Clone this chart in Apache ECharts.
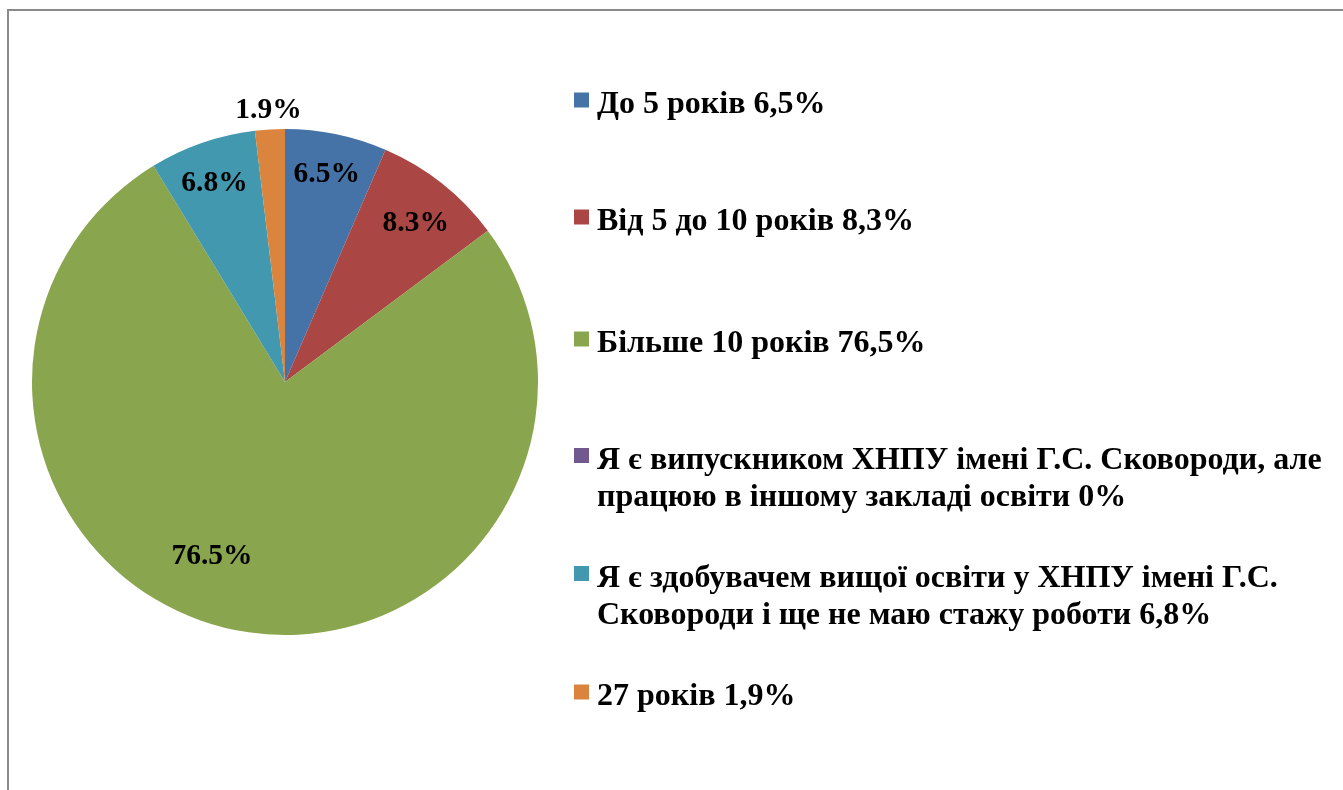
<!DOCTYPE html>
<html lang="uk">
<head>
    <meta charset="UTF-8">
    <title>Стаж роботи</title>
    <style>
        html, body { margin: 0; padding: 0; background: #fff; }
        #container { width: 1343px; height: 790px; }
    </style>
</head>
<body>
<div id="container"></div>
<script type="text/javascript" src="https://cdn.jsdelivr.net/npm/echarts@6/dist/echarts.min.js"></script>
<script type="text/javascript">
    // data
    var categories = [
        'До 5 років',
        'Від 5 до 10 років',
        'Більше 10 років',
        'Я є випускником ХНПУ імені Г.С. Сковороди, але\nпрацюю в іншому закладі освіти',
        'Я є здобувачем вищої освіти у ХНПУ імені Г.С.\nСковороди і ще не маю стажу роботи',
        '27 років'
    ];
    var values = [6.5, 8.3, 76.5, 0, 6.8, 1.9];
    var colors = ['#4572a7', '#aa4643', '#89a54e', '#71588f', '#4198af', '#db843d'];

    var dom = document.getElementById("container");
    var myChart = echarts.init(dom);
    var option = null;

    var font = "'Liberation Serif', 'Times New Roman', serif";
    var cx = 285, cy = 382, R = 253;
    // layout tweaks (not data)
    var legendTops = [77.5, 194.5, 316.5, 414.5, 532.5, 669.5];
    var labelOffsets = [[-2, 3], [-3, 10], [-32, -37], [0, 0], [0, 5], [0, 5]];

    var pieData = categories.map(function (c, i) {
        return {name: c, value: values[i], itemStyle: {color: colors[i]}};
    });

    // labels sit at ~0.84 of radius, like the original; 1.9% goes outside
    var innerLabelData = categories.map(function (c, i) {
        var show = values[i] !== 0 && i !== 5;
        return {name: c, value: values[i], label: {show: show, offset: labelOffsets[i]}};
    });
    var outerLabelData = categories.map(function (c, i) {
        return {name: c, value: values[i], label: {show: i === 5, offset: labelOffsets[i]}};
    });

    var legends = categories.map(function (c, i) {
        var multi = c.indexOf('\n') >= 0;
        return {
            left: 574,
            top: legendTops[i],
            padding: 0,
            orient: 'vertical',
            selectedMode: false,
            itemWidth: 15,
            itemHeight: 15,
            icon: 'rect',
            data: [{name: c, itemStyle: {color: colors[i], opacity: 1}}],
            formatter: function (name) {
                var text = name + ' ' + String(values[i]).replace('.', ',') + '%';
                var lines = text.split('\n').map(function (l) {
                    return '{t|' + l + '}';
                });
                return '{' + (multi ? 'e2' : 'e1') + '| }\n' + lines.join('\n');
            },
            textStyle: {
                fontFamily: font,
                fontWeight: 'bold',
                fontSize: 32,
                color: '#000',
                rich: {
                    t: {
                        fontFamily: font,
                        fontWeight: 'bold',
                        fontSize: 32,
                        lineHeight: 37,
                        color: '#000',
                        padding: [0, 0, 0, 3]
                    },
                    e1: {fontSize: 8, lineHeight: 10},
                    e2: {fontSize: 8, lineHeight: 47}
                }
            }
        };
    });

    var labelStyle = {
        show: true,
        position: 'inside',
        fontFamily: font,
        fontWeight: 'bold',
        fontSize: 29.5,
        color: '#000',
        formatter: function (p) {
            return p.value.toFixed(1) + '%';
        }
    };

    option = {
        animation: false,
        backgroundColor: '#fff',
        graphic: [{
            type: 'rect',
            shape: {x: 8, y: 10, width: 1500, height: 1000},
            style: {fill: 'none', stroke: '#8a8a8a', lineWidth: 2},
            silent: true
        }],
        legend: legends,
        series: [
            {
                name: 'main',
                type: 'pie',
                center: [cx, cy],
                radius: [0, R],
                startAngle: 90,
                clockwise: true,
                avoidLabelOverlap: false,
                label: {show: false},
                labelLine: {show: false},
                emphasis: {disabled: true},
                itemStyle: {borderWidth: 0},
                data: pieData
            },
            {
                name: 'labels',
                type: 'pie',
                center: [cx, cy],
                radius: [R * 0.68, R],
                startAngle: 90,
                clockwise: true,
                silent: true,
                avoidLabelOverlap: false,
                legendHoverLink: false,
                itemStyle: {color: 'rgba(0,0,0,0)'},
                label: labelStyle,
                labelLine: {show: false},
                emphasis: {disabled: true},
                data: innerLabelData
            },
            {
                name: 'outer',
                type: 'pie',
                center: [cx, cy],
                radius: [R, R * 1.166],
                startAngle: 90,
                clockwise: true,
                silent: true,
                avoidLabelOverlap: false,
                legendHoverLink: false,
                itemStyle: {color: 'rgba(0,0,0,0)'},
                label: labelStyle,
                labelLine: {show: false},
                emphasis: {disabled: true},
                data: outerLabelData
            }
        ]
    };

    if (option && typeof option === "object") {
        myChart.setOption(option, true);
    }
</script>
</body>
</html>
